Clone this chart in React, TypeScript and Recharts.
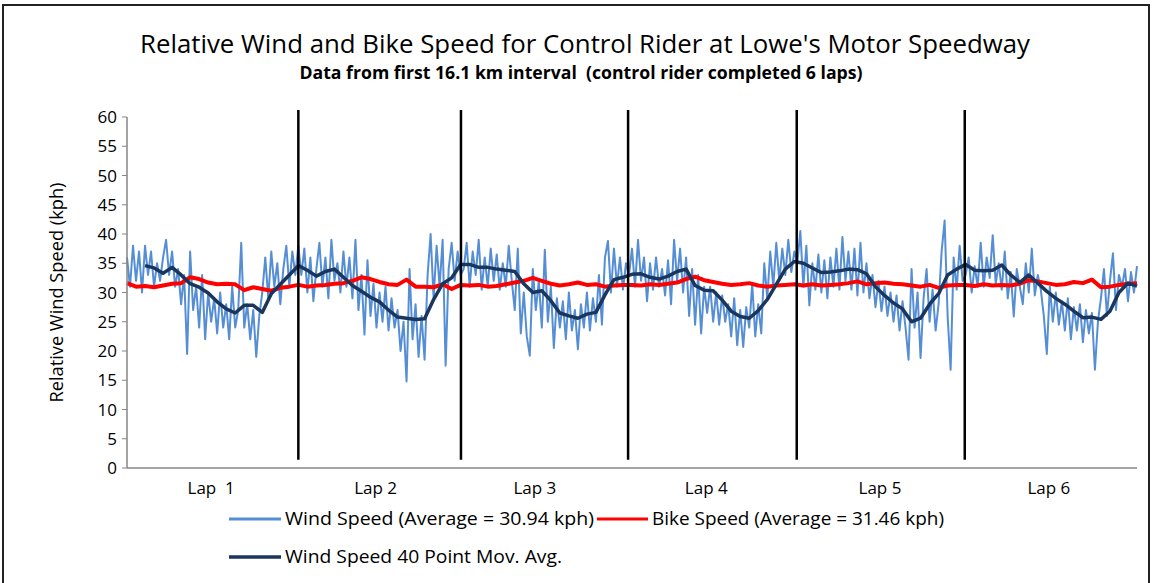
import React from 'react';
import { LineChart, Line, XAxis, YAxis, ReferenceLine } from 'recharts';

// Wind speed samples (kph), one per sample index 0..336
const windSpeed: number[] = [
  // Lap 1
  36, 31, 38, 32, 37, 30, 38, 33, 37, 31, 35, 32, 36, 39, 33, 37, 31, 34, 28, 33, 19.5, 37, 27, 31, 24, 33, 22, 30, 25,
  29, 23, 30, 24, 28, 22, 31, 24, 27, 38.5, 24, 28, 22, 27, 19, 26, 30, 36, 29, 37, 31, 35, 28, 34, 38, 31, 37, 33, 38,
  // Lap 2
  33, 37.5, 30, 36, 28.5, 34, 38.5, 31, 36, 29, 39, 32, 35, 30, 37, 31, 36, 29, 39, 27, 33, 22.8, 35.5, 26, 31.5, 24, 30,
  25, 31, 23.5, 29, 24, 27, 20, 25, 14.8, 34, 22, 28, 19, 26, 18.5, 33, 40, 29, 38, 31, 39, 17.5, 34, 38.5, 32, 37, 33,
  // Lap 3
  34, 38.5, 31, 37, 33, 39, 30.5, 36, 31, 37.5, 32, 36.5, 30.5, 35, 31, 38, 32, 27, 37.5, 23, 30, 22.5, 19.2, 34, 27, 32,
  24, 37.3, 25, 31, 20.5, 29, 24, 28.5, 22, 30, 23.5, 27, 20.3, 28, 24, 30, 23.5, 29, 25, 33, 24.5, 36, 38.8, 30, 37.5,
  31, 36, 30.5, 35,
  // Lap 4
  33, 37.5, 31, 39, 32, 36, 28.5, 35, 30.5, 36, 31, 34, 29.5, 35.5, 28, 39, 32, 37.5, 30, 36, 26, 34, 24.5, 33, 23, 31,
  26.5, 31, 25, 30, 24.5, 29.5, 25, 28, 22.5, 29, 21, 27, 20.7, 27.5, 24, 31.5, 22.5, 28, 23, 35, 29, 37, 31, 38.5, 32,
  37.5, 33, 39, 33.5, 37,
  // Lap 5
  35, 40.5, 31, 38, 27.8, 35, 30.5, 36.5, 30, 35.5, 29, 36, 31, 37.5, 30.5, 39.5, 32, 37, 30.5, 37.5, 29.5, 38.5, 30, 35,
  29, 33, 27.5, 32, 26.8, 31, 26, 30, 25, 29.5, 23.5, 28.5, 24, 18.5, 34, 24, 30, 18.8, 29, 34, 25, 30.5, 23.5, 28, 37,
  42.3, 26, 16.8, 36, 30.5, 38, 32,
  // Lap 6
  33, 36, 30, 34.5, 31, 38.5, 31, 36, 32.5, 39.8, 31.5, 35, 30.5, 37, 29, 33.5, 25.9, 34, 31, 28, 35, 30, 37.5, 29.5, 33,
  30.5, 26, 19.5, 31, 25, 30, 24.5, 28.5, 23.5, 29, 22, 27.5, 23.5, 28, 21.5, 27, 23, 26.5, 16.8, 25, 29, 34, 26, 32,
  36.7, 27, 33, 31, 34, 28.5, 33.5, 30, 34.5,
];

// 40 point moving average, read every 3rd sample index
const movAvg40: (number | null)[] = [
  null, null, 34.6, 34.2, 33.3, 34.3, 33.0, 31.5, 30.9, 29.9, 28.4, 27.2, 26.5, 27.8, 27.8, 26.6, 29.8, 31.4, 33.0, 34.6,
  33.8, 32.8, 33.6, 34.0, 32.6, 31.2, 30.2, 29.2, 28.4, 27.0, 25.8, 25.6, 25.4, 25.5, 28.8, 31.5, 32.5, 34.8,
  34.8, 34.3, 34.3, 34.0, 33.8, 33.6, 31.5, 30.0, 30.3, 28.6, 26.5, 26.0, 25.6, 26.3, 26.6, 29.6, 32.2, 32.6,
  33.1, 33.2, 32.6, 32.3, 32.8, 33.6, 34.0, 31.2, 30.4, 30.3, 28.7, 26.8, 25.9, 25.6, 26.9, 28.8, 31.4, 34.0, 35.3,
  35.0, 34.2, 33.4, 33.5, 33.7, 34.0, 33.9, 33.2, 31.0, 29.5, 28.2, 27.2, 25.0, 25.6, 28.0, 29.8, 33.0, 34.0,
  34.8, 33.8, 33.7, 33.8, 34.7, 33.0, 31.7, 33.0, 31.6, 30.2, 29.0, 28.0, 26.8, 25.7, 25.8, 25.4, 26.8, 30.0, 31.6, 31.1,
];

// Bike speed, read every 3rd sample index
const bikeSpeed: number[] = [
  31.6, 31.0, 31.1, 30.9, 31.2, 31.5, 31.6, 32.6, 32.3, 31.7, 31.4, 31.5, 31.4, 30.4, 30.9, 30.6, 30.3, 30.8, 31.0, 31.3,
  31.0, 31.2, 31.3, 31.5, 31.6, 32.0, 32.6, 32.3, 31.8, 31.4, 31.3, 32.2, 31.0, 31.0, 30.9, 31.4, 30.6, 31.3,
  31.2, 31.3, 31.0, 31.1, 31.4, 31.7, 32.0, 32.5, 32.0, 31.5, 31.2, 31.4, 31.7, 31.3, 31.4, 31.0, 31.2, 31.3,
  31.3, 31.2, 31.4, 31.3, 31.5, 31.7, 32.3, 32.7, 32.1, 31.8, 31.5, 31.3, 31.4, 31.6, 31.2, 31.0, 31.2, 31.3, 31.4,
  31.2, 31.4, 31.2, 31.3, 31.4, 31.6, 31.9, 31.4, 31.6, 31.7, 31.5, 31.4, 31.2, 31.0, 31.3, 30.8, 31.2, 31.3,
  31.3, 31.1, 31.4, 31.2, 31.3, 31.2, 31.5, 32.1, 31.9, 31.6, 31.3, 31.4, 31.8, 31.6, 32.2, 30.9, 31.0, 31.3, 31.5, 31.6,
];
const READ_STEP = 3;

// Lap boundaries (sample index) and lap label positions
const lapBoundaries = [57, 111.1, 166.7, 222.8, 278.7];
const dividerRange = [1.4, 61.2];
const lapLabels = ['Lap  1', 'Lap 2', 'Lap 3', 'Lap 4', 'Lap 5', 'Lap 6'];
const lapLabelAt = [28, 82.7, 135.7, 192.7, 250.5, 306.7];
const yTicks = [0, 5, 10, 15, 20, 25, 30, 35, 40, 45, 50, 55, 60];

const TITLE = "Relative Wind and Bike Speed for Control Rider at Lowe's Motor Speedway";
const SUBTITLE = 'Data from first 16.1 km interval  (control rider completed 6 laps)';
const Y_LABEL = 'Relative Wind Speed (kph)';
const NAME_WIND = 'Wind Speed (Average = 30.94 kph)';
const NAME_BIKE = 'Bike Speed (Average = 31.46 kph)';
const NAME_MA = 'Wind Speed 40 Point Mov. Avg.';

const C_WIND = '#558ED5';
const C_BIKE = '#FF0000';
const C_MA = '#1B365D';
const FONT = "'Open Sans', 'Noto Sans', Lato, sans-serif";

const data = windSpeed.map((w, i) => ({
  i,
  wind: w,
  bike: i % READ_STEP === 0 ? bikeSpeed[i / READ_STEP] : null,
  ma: i % READ_STEP === 0 ? movAvg40[i / READ_STEP] : null,
}));

const LapTick = (props: any) => {
  const { x, y, payload, index } = props;
  let k = typeof index === 'number' ? index : lapLabelAt.indexOf(payload.value);
  if (k < 0) k = lapLabelAt.indexOf(payload.value);
  return (
    <text x={x} y={y} dy={18} textAnchor="middle" fontSize={17} fontFamily={FONT} fill="#000" style={{ whiteSpace: 'pre' }}>
      {lapLabels[k]}
    </text>
  );
};

const YLabel = (props: any) => {
  const vb = props.viewBox || { x: 0, y: 117, width: 127, height: 351 };
  const cx = vb.x + 63;
  const cy = vb.y + vb.height / 2;
  return (
    <text
      transform={`translate(${cx},${cy}) rotate(-90)`}
      textAnchor="middle"
      fontSize={18}
      fontFamily={FONT}
      fill="#000"
      textLength={220}
      lengthAdjust="spacingAndGlyphs"
    >
      {Y_LABEL}
    </text>
  );
};

export default function App() {
  return (
    <div style={{ position: 'absolute', left: 0, top: 0, width: 1154, height: 583, background: '#fff', overflow: 'hidden' }}>
      <div
        style={{
          position: 'absolute',
          left: 2,
          top: 4,
          width: 1148,
          height: 700,
          border: '2px solid #222',
          boxSizing: 'border-box',
        }}
      />
      <div style={{ position: 'absolute', left: 0, top: 0 }}>
        <LineChart width={1154} height={583} data={data} margin={{ top: 117, right: 17, bottom: 0, left: 0 }}>
          <XAxis
            dataKey="i"
            type="number"
            domain={[0, 336]}
            ticks={lapLabelAt}
            interval={0}
            tickLine={false}
            axisLine={{ stroke: '#868686', strokeWidth: 1.5 }}
            height={115}
            tick={LapTick}
          />
          <YAxis
            type="number"
            domain={[0, 60]}
            ticks={yTicks}
            interval={0}
            width={127}
            tickSize={5}
            tickMargin={5}
            axisLine={{ stroke: '#868686', strokeWidth: 1.5 }}
            tickLine={{ stroke: '#868686' }}
            tick={{ fill: '#000', fontSize: 17, fontFamily: FONT }}
            label={{ content: YLabel }}
          />
          <Line
            type="linear"
            dataKey="wind"
            name={NAME_WIND}
            stroke={C_WIND}
            strokeWidth={2}
            dot={false}
            isAnimationActive={false}
            strokeLinejoin="round"
          />
          <Line
            type="linear"
            dataKey="bike"
            name={NAME_BIKE}
            stroke={C_BIKE}
            strokeWidth={4}
            dot={false}
            connectNulls
            isAnimationActive={false}
            strokeLinejoin="round"
          />
          <Line
            type="linear"
            dataKey="ma"
            name={NAME_MA}
            stroke={C_MA}
            strokeWidth={3.5}
            dot={false}
            connectNulls
            isAnimationActive={false}
            strokeLinejoin="round"
          />
          {lapBoundaries.map((b) => (
            <ReferenceLine
              key={b}
              segment={[
                { x: b, y: dividerRange[0] },
                { x: b, y: dividerRange[1] },
              ]}
              stroke="#000"
              strokeWidth={2.5}
              ifOverflow="visible"
            />
          ))}
        </LineChart>
      </div>
      <svg width={1154} height={583} style={{ position: 'absolute', left: 0, top: 0, pointerEvents: 'none' }}>
        <text x={585} y={53} textAnchor="middle" fontSize={26} fontFamily={FONT} fill="#000" textLength={890} lengthAdjust="spacingAndGlyphs">
          {TITLE}
        </text>
        <text x={581} y={79} textAnchor="middle" fontSize={17} fontWeight="bold" fontFamily={FONT} fill="#000" textLength={563} lengthAdjust="spacingAndGlyphs" style={{ whiteSpace: 'pre' }}>
          {SUBTITLE}
        </text>
        <line x1={229} y1={519} x2={281} y2={519} stroke={C_WIND} strokeWidth={3} />
        <text x={285} y={525} fontSize={18} fontFamily={FONT} fill="#000" textLength={309} lengthAdjust="spacingAndGlyphs">
          {NAME_WIND}
        </text>
        <line x1={597} y1={519} x2={648} y2={519} stroke={C_BIKE} strokeWidth={3} />
        <text x={652} y={525} fontSize={18} fontFamily={FONT} fill="#000" textLength={292} lengthAdjust="spacingAndGlyphs">
          {NAME_BIKE}
        </text>
        <line x1={229} y1={557} x2={281} y2={557} stroke={C_MA} strokeWidth={3.5} />
        <text x={285} y={563} fontSize={18} fontFamily={FONT} fill="#000" textLength={277} lengthAdjust="spacingAndGlyphs">
          {NAME_MA}
        </text>
      </svg>
    </div>
  );
}
